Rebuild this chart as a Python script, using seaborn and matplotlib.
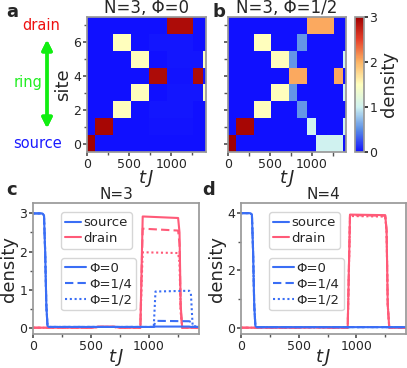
import numpy as np
import pandas as pd
import seaborn as sns
import matplotlib
matplotlib.use("Agg")
import matplotlib.pyplot as plt
from matplotlib.colors import LinearSegmentedColormap
from matplotlib.lines import Line2D
from matplotlib.ticker import MultipleLocator

# ---- heatmap data (site x time block) ----
sites = list(range(8))
a_edges = [0, 100, 310, 520, 735, 945, 1262, 1373, 1410]
a_density = [
    [3.0, 0, 0, 0, 0, 0, 0, 0],
    [0, 2.95, 0, 0, 0.02, 0.02, 0.01, 0],
    [0, 0, 1.5, 0, 0.03, 0.03, 0.01, 0],
    [0, 0, 0, 1.5, 0, 0.03, 0.03, 1.45],
    [0, 0, 0, 0, 2.9, 0.02, 2.9, 0.03],
    [0, 0, 0, 1.5, 0, 0.03, 0.03, 1.45],
    [0, 0, 1.5, 0, 0.03, 0.03, 0.01, 0],
    [0, 0, 0, 0, 0, 2.9, 0, 0],
]
b_edges = [0, 100, 310, 520, 735, 830, 945, 1050, 1262, 1373, 1410]
b_density = [
    [3.0, 0, 0, 0, 0, 0, 0, 1.0, 1.0, 0],
    [0, 2.95, 0, 0, 0, 0, 1.0, 0, 0, 1.0],
    [0, 0, 1.5, 0, 0, 0.55, 0, 0, 0, 0],
    [0, 0, 0, 1.5, 0.55, 0, 0, 0, 0, 1.0],
    [0, 0, 0, 0, 2.05, 2.05, 0, 0, 2.05, 0],
    [0, 0, 0, 1.5, 0.55, 0, 0, 0, 0, 1.0],
    [0, 0, 1.5, 0, 0, 0.55, 0, 0, 0, 0],
    [0, 0, 0, 0, 0, 0, 2.05, 2.05, 0, 0],
]

# ---- line data (breakpoints) ----
phis = ["Φ=0", "Φ=1/4", "Φ=1/2"]
t_src = [0, 80, 95, 105, 115, 125, 135, 1040, 1055, 1345, 1360, 1375, 1430]
c_source = {
    "Φ=0":   [3.0, 3.0, 2.95, 2.0, 0.6, 0.05, 0.02, 0.02, 0.03, 0.03, 0.02, 0.02, 0.02],
    "Φ=1/4": [3.0, 3.0, 2.95, 2.0, 0.6, 0.05, 0.02, 0.02, 0.18, 0.17, 0.15, 0.02, 0.02],
    "Φ=1/2": [3.0, 3.0, 2.95, 2.0, 0.6, 0.05, 0.02, 0.02, 0.95, 0.97, 0.9, 0.05, 0.02],
}
t_drn = [0, 520, 560, 700, 740, 925, 935, 945, 1250, 1262, 1272, 1285, 1430]
c_drain = {
    "Φ=0":   [0.0, 0.0, 0.03, 0.03, 0.0, 0.0, 1.5, 2.92, 2.88, 2.5, 0.6, 0.0, 0.0],
    "Φ=1/4": [0.0, 0.0, 0.02, 0.02, 0.0, 0.0, 1.4, 2.6, 2.55, 2.2, 0.5, 0.0, 0.0],
    "Φ=1/2": [0.0, 0.0, 0.02, 0.02, 0.0, 0.0, 1.1, 1.98, 1.96, 1.7, 0.4, 0.0, 0.0],
}
d_source = {
    "Φ=0":   [4.0, 4.0, 3.95, 2.7, 0.8, 0.06, 0.02, 0.02, 0.02, 0.02, 0.02, 0.02, 0.02],
    "Φ=1/4": [4.0, 4.0, 3.95, 2.7, 0.8, 0.06, 0.02, 0.02, 0.02, 0.02, 0.02, 0.02, 0.02],
    "Φ=1/2": [4.0, 4.0, 3.95, 2.7, 0.8, 0.06, 0.02, 0.02, 0.02, 0.02, 0.02, 0.02, 0.02],
}
d_drain = {
    "Φ=0":   [0.0, 0.0, 0.01, 0.01, 0.0, 0.0, 2.0, 3.95, 3.93, 3.4, 0.8, 0.0, 0.0],
    "Φ=1/4": [0.0, 0.0, 0.01, 0.01, 0.0, 0.0, 2.0, 3.93, 3.91, 3.4, 0.8, 0.0, 0.0],
    "Φ=1/2": [0.0, 0.0, 0.01, 0.01, 0.0, 0.0, 1.9, 3.9, 3.88, 3.3, 0.8, 0.0, 0.0],
}

blue = "#3a6ef5"
pink = "#ff5a78"
styles = {"Φ=0": "-", "Φ=1/4": (0, (4, 2)), "Φ=1/2": (0, (1, 1.3))}
frame = "#999999"

sns.set_theme(style="ticks")
plt.rcParams["font.family"] = ["DejaVu Sans"]
plt.rcParams["mathtext.fontset"] = "dejavusans"

cmap = LinearSegmentedColormap.from_list(
    "dens", ["#1010ff", "#5a8ee6", "#d0f2f0", "#ffffbe", "#fdb464", "#e6402a", "#a00000"])

fig = plt.figure(figsize=(4.07, 3.68), dpi=100)
ax_a = fig.add_axes([0.2138, 0.587, 0.2922, 0.367])
ax_b = fig.add_axes([0.560, 0.587, 0.290, 0.367])
cax = fig.add_axes([0.872, 0.587, 0.022, 0.367])
ax_c = fig.add_axes([0.081, 0.0924, 0.408, 0.3556])
ax_d = fig.add_axes([0.592, 0.0924, 0.4055, 0.3556])

site_edges = np.arange(len(sites) + 1) - 0.5
for ax, edges, dens, title in [(ax_a, a_edges, a_density, "N=3, Φ=0"),
                               (ax_b, b_edges, b_density, "N=3, Φ=1/2")]:
    mesh = ax.pcolormesh(edges, site_edges, np.array(dens), cmap=cmap,
                         vmin=0, vmax=3, shading="flat")
    ax.set_xlim(0, 1410)
    ax.set_ylim(-0.5, 7.5)
    ax.set_title(title, fontsize=12, pad=2)
    ax.set_xlabel(r"$t\,J$", fontsize=13, labelpad=-2)
    ax.xaxis.set_major_locator(MultipleLocator(500))
    ax.xaxis.set_minor_locator(MultipleLocator(250))
    ax.yaxis.set_major_locator(MultipleLocator(2))
    ax.yaxis.set_minor_locator(MultipleLocator(1))
    ax.tick_params(labelsize=9, length=3, pad=1, color="#555555")
    ax.tick_params(which="minor", length=2, color="#555555")
    for s in ax.spines.values():
        s.set_color(frame)
ax_a.set_ylabel("site", fontsize=13, labelpad=1)
ax_b.set_yticklabels([])
ax_b.tick_params(which="minor", length=3)

cb = fig.colorbar(mesh, cax=cax, ticks=[0, 1, 2, 3])
cb.set_label("density", fontsize=13, labelpad=2)
cb.ax.tick_params(labelsize=9, length=3, pad=1)
cb.outline.set_edgecolor(frame)

# side annotation of panel a
fig.text(0.10, 0.932, "drain", color="#ee1111", fontsize=10.5, ha="center", va="center")
fig.text(0.069, 0.777, "ring", color="#22ee22", fontsize=10.5, ha="center", va="center")
fig.text(0.093, 0.609, "source", color="#1a1aff", fontsize=10.5, ha="center", va="center")
fig.add_artist(plt.annotate("", xy=(0.1155, 0.644), xytext=(0.1155, 0.8995),
                            xycoords="figure fraction", textcoords="figure fraction",
                            arrowprops=dict(arrowstyle="<|-|>", color="#11ee11", lw=2.4,
                                            mutation_scale=15)))

for ax, src, drn, title, ylim, ymaj in [(ax_c, c_source, c_drain, "N=3", (-0.165, 3.27), 1),
                                        (ax_d, d_source, d_drain, "N=4", (-0.22, 4.35), 2)]:
    for phi in phis:
        sns.lineplot(x=t_drn, y=drn[phi], ax=ax, color=pink, linestyle=styles[phi],
                     linewidth=1.5, estimator=None, sort=False)
    for phi in phis:
        sns.lineplot(x=t_src, y=src[phi], ax=ax, color=blue, linestyle=styles[phi],
                     linewidth=1.5, estimator=None, sort=False)
    ax.set_xlim(0, 1430)
    ax.set_ylim(*ylim)
    ax.set_title(title, fontsize=11, pad=3)
    ax.set_xlabel(r"$t\,J$", fontsize=13, labelpad=-4)
    ax.set_ylabel("density", fontsize=13, labelpad=1)
    ax.xaxis.set_major_locator(MultipleLocator(500))
    ax.xaxis.set_minor_locator(MultipleLocator(250))
    ax.yaxis.set_major_locator(MultipleLocator(ymaj))
    ax.yaxis.set_minor_locator(MultipleLocator(ymaj / 2))
    ax.tick_params(labelsize=9, length=3, pad=1, color="#555555")
    ax.tick_params(which="minor", length=2, color="#555555")
    for s in ax.spines.values():
        s.set_color(frame)
    h1 = [Line2D([], [], color=blue, lw=1.5), Line2D([], [], color=pink, lw=1.5)]
    leg1 = ax.legend(h1, ["source", "drain"], loc="upper left", bbox_to_anchor=(0.17, 0.93),
                     fontsize=9.5, handlelength=1.2, handletextpad=0.2, borderpad=0.3,
                     labelspacing=0.2, borderaxespad=0)
    ax.add_artist(leg1)
    h2 = [Line2D([], [], color=blue, lw=1.5, linestyle=styles[p]) for p in phis]
    ax.legend(h2, phis, loc="upper left", bbox_to_anchor=(0.17, 0.58),
              fontsize=9.5, handlelength=1.6, handletextpad=0.2, borderpad=0.3,
              labelspacing=0.2, borderaxespad=0)

for x, y, s in [(0.015, 0.968, "a"), (0.522, 0.968, "b"), (0.015, 0.484, "c"), (0.497, 0.484, "d")]:
    fig.text(x, y, s, fontsize=13, fontweight="bold", ha="left", va="center")

fig.savefig("out.png", dpi=100)
